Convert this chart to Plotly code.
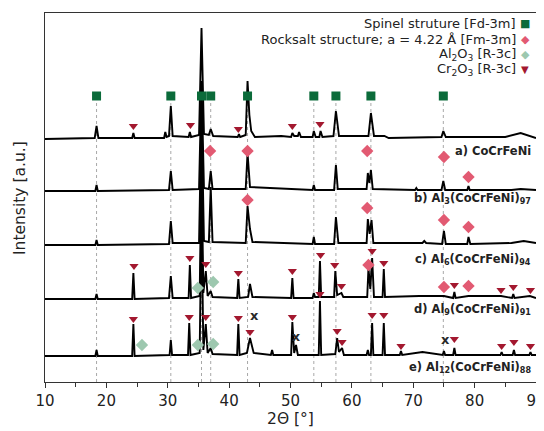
import plotly.graph_objects as go

# ---------------- data (2θ in degrees, intensity in a.u. above each pattern's baseline) ----------------
a_tt = [10, 18.1, 18.4, 18.7, 24.2, 24.4, 24.6, 29.4, 29.6, 29.8, 30.2, 30.5, 30.8, 33.4, 33.6, 33.8,
        35.1, 35.5, 35.9, 36.7, 37.0, 37.4, 41.4, 41.6, 41.8, 42.7, 43.0, 43.3, 43.6, 44.2, 48.5,
        50.1, 50.3, 50.6, 51.2, 51.4, 51.7, 53.6, 53.8, 54.1, 54.7, 54.9, 55.2, 57.0, 57.4, 57.9,
        62.7, 63.1, 63.6, 65.3, 66.0, 74.6, 74.9, 75.3, 85.0, 87.5, 90]
a_int = [0, 1, 13, 1, 1, 6, 1, 1, 7, 2, 3, 33, 3, 2, 7, 2,
         4, 111, 5, 4, 10, 3, 2, 5, 2, 4, 58, 24, 8, 2, 3,
         2, 6, 3, 3, 7, 2, 2, 8, 2, 2, 8, 2, 3, 28, 3,
         3, 26, 3, 3, 1, 2, 8, 2, 2, 6, 1]

b_tt = [10, 18.2, 18.4, 18.6, 30.2, 30.5, 30.8, 35.1, 35.5, 35.9, 36.7, 37.0, 37.3, 42.7, 43.0, 43.4,
        53.6, 53.8, 54.0, 57.1, 57.4, 57.7, 62.4, 62.6, 62.85, 63.1, 63.4, 70.3, 70.5, 70.7,
        74.6, 74.9, 75.2, 78.8, 79.0, 79.2, 86.0, 87.5, 90]
b_int = [0, 0, 6, 0, 1, 20, 1, 2, 110, 3, 2, 20, 2, 2, 38, 4,
         1, 6, 1, 1, 26, 2, 2, 18, 8, 21, 2, 1, 3, 1,
         1, 10, 1, 1, 5, 1, 1, 2, 1]

c_tt = [10, 18.2, 18.4, 18.6, 30.2, 30.5, 30.8, 35.1, 35.5, 35.9, 36.7, 37.0, 37.3, 42.7, 43.0, 43.4,
        43.8, 53.6, 53.8, 54.0, 57.1, 57.4, 57.8, 62.4, 62.6, 62.9, 63.2, 63.5, 71.5, 71.8, 72.1,
        74.7, 75.0, 75.3, 78.8, 79.0, 79.3, 86.0, 88.0, 90]
c_int = [0, 0, 5, 0, 1, 24, 2, 2, 136, 4, 3, 58, 3, 2, 39, 16,
         3, 1, 8, 1, 1, 28, 2, 2, 26, 11, 25, 2, 2, 4, 2,
         1, 14, 1, 1, 8, 1, 2, 4, 2]

d_tt = [10, 18.2, 18.4, 18.6, 24.2, 24.4, 24.6, 30.2, 30.5, 30.8, 33.4, 33.6, 33.8, 35.2, 35.5, 35.8,
        36.2, 36.5, 37.0, 37.3, 41.3, 41.5, 41.7, 43.1, 43.4, 43.8, 50.1, 50.3, 50.5, 53.6, 53.8,
        54.0, 54.6, 54.8, 55.0, 57.1, 57.3, 57.6, 58.3, 58.6, 62.5, 62.7, 63.0, 63.3, 63.6, 65.0,
        65.2, 65.4, 71.0, 75.0, 76.5, 76.7, 76.9, 79.0, 84.3, 86.1, 86.3, 86.5, 89.0, 90]
d_int = [0, 0, 5, 0, 0, 26, 0, 1, 23, 1, 1, 34, 1, 3, 141, 6,
         28, 3, 8, 2, 1, 20, 1, 2, 15, 2, 1, 21, 1, 1, 6,
         2, 2, 38, 2, 2, 28, 4, 6, 2, 2, 31, 10, 41, 2, 2,
         30, 2, 3, 3, 1, 7, 1, 3, 3, 1, 5, 1, 3, 1]

e_tt = [10, 18.2, 18.4, 18.6, 24.2, 24.4, 24.6, 30.3, 30.5, 30.7, 33.3, 33.5, 33.7, 35.2, 35.5, 35.8,
        36.2, 36.5, 37.0, 37.3, 41.3, 41.5, 41.7, 42.9, 43.4, 44.0, 46.8, 47.0, 47.2, 50.1, 50.3,
        50.6, 50.9, 51.2, 54.6, 54.8, 55.0, 57.3, 57.6, 57.9, 58.4, 58.7, 62.4, 62.6, 62.8, 63.1,
        63.3, 63.5, 65.0, 65.2, 65.4, 67.8, 68.0, 68.2, 71.5, 74.8, 75.0, 75.2, 76.5, 76.7, 76.9,
        84.2, 84.4, 84.6, 86.2, 86.4, 86.6, 88.9, 89.1, 89.3, 90]
e_int = [0, 0, 6, 0, 0, 32, 0, 1, 16, 1, 1, 33, 1, 3, 148, 6,
         32, 3, 8, 2, 1, 32, 1, 3, 18, 3, 1, 6, 1, 1, 34,
         3, 11, 1, 1, 55, 1, 2, 18, 4, 8, 1, 1, 6, 1, 1,
         33, 1, 1, 33, 1, 1, 5, 1, 4, 1, 5, 1, 1, 8, 1,
         1, 4, 1, 1, 6, 1, 1, 4, 1, 1]

pattern_names = ["a) CoCrFeNi",
                 "b) Al<sub>3</sub>(CoCrFeNi)<sub>97</sub>",
                 "c) Al<sub>6</sub>(CoCrFeNi)<sub>94</sub>",
                 "d) Al<sub>9</sub>(CoCrFeNi)<sub>91</sub>",
                 "e) Al<sub>12</sub>(CoCrFeNi)<sub>88</sub>"]
pattern_offsets = [243, 191, 137, 83, 26]   # vertical stacking offsets (a.u.)
label_levels = [231, 184, 123, 73, 15]

# phase reflections (2θ) and marker levels (a.u. in stacked scale)
spinel_tt = [18.4, 30.5, 35.5, 37.0, 43.0, 53.8, 57.4, 63.1, 74.9]
spinel_lvl = [286] * 9

rock_tt = [36.9, 43.0, 62.5, 75.0, 79.0, 43.0, 62.5, 75.0, 79.0, 62.7, 75.0, 79.0]
rock_lvl = [231, 231, 231, 225, 205, 182, 174, 162, 155, 117, 95, 96]

al2o3_tt = [34.9, 37.4, 25.8, 34.9, 37.4]
al2o3_lvl = [94, 100, 37, 37, 38]

cr2o3_tt = [24.4, 33.7, 41.5, 50.3, 54.8,
            24.5, 33.6, 36.2, 41.5, 50.3, 54.9, 57.2, 58.3, 63.3, 65.2, 76.7, 84.3, 86.3, 89.1,
            24.4, 33.5, 36.2, 41.5, 43.4, 50.3, 54.8, 57.6, 58.4, 63.3, 65.2, 68.0, 76.7, 84.4, 86.4, 89.1]
cr2o3_lvl = [256, 257, 253, 256, 258,
             116, 124, 118, 109, 111, 127, 117, 96, 131, 119, 97, 92, 95, 92,
             63, 65, 65, 64, 50, 65, 88, 51, 40, 67, 67, 36, 43, 36, 40, 36]

unknown_tt = [44.1, 50.9, 75.2]
unknown_lvl = [65, 44, 41]

legend_labels = ["Spinel struture [Fd-3m]",
                 "Rocksalt structure; a = 4.22 Å [Fm-3m]",
                 "Al<sub>2</sub>O<sub>3</sub> [R-3c]",
                 "Cr<sub>2</sub>O<sub>3</sub> [R-3c]"]
legend_glyphs = ["■", "◆", "◆", "▼"]

# ---------------- styling ----------------
FONT = "DejaVu Sans"
C_SPINEL = "#0b6b3a"
C_ROCK = "#e25a72"
C_AL2O3 = "#9dc8af"
C_CR2O3 = "#a3182f"
legend_colors = [C_SPINEL, C_ROCK, C_AL2O3, C_CR2O3]

fig = go.Figure()

# dashed reference lines for spinel reflections
for t in spinel_tt:
    fig.add_shape(type="line", x0=t, x1=t, y0=0, y1=281, xref="x", yref="y",
                  line=dict(color="#a8a8a8", width=1, dash="3px,3px"), layer="below")

patterns = [(a_tt, a_int), (b_tt, b_int), (c_tt, c_int), (d_tt, d_int), (e_tt, e_int)]
for (tt, iv), off in zip(patterns, pattern_offsets):
    fig.add_trace(go.Scatter(x=tt, y=[off + v for v in iv], mode="lines",
                             line=dict(color="black", width=1.9), hoverinfo="skip",
                             showlegend=False))

fig.add_trace(go.Scatter(x=spinel_tt, y=spinel_lvl, mode="markers",
                         marker=dict(symbol="square", size=9, color=C_SPINEL), showlegend=False))
fig.add_trace(go.Scatter(x=rock_tt, y=rock_lvl, mode="markers",
                         marker=dict(symbol="diamond", size=9.5, color=C_ROCK), showlegend=False))
fig.add_trace(go.Scatter(x=al2o3_tt, y=al2o3_lvl, mode="markers",
                         marker=dict(symbol="diamond", size=9.5, color=C_AL2O3), showlegend=False))
fig.add_trace(go.Scatter(x=cr2o3_tt, y=cr2o3_lvl, mode="markers",
                         marker=dict(symbol="triangle-down", size=8, color=C_CR2O3), showlegend=False))
fig.add_trace(go.Scatter(x=unknown_tt, y=unknown_lvl, mode="text", text=["<b>x</b>"] * len(unknown_tt),
                         textfont=dict(family=FONT, size=13, color="#2a2a2a"),
                         textposition="middle center", showlegend=False))

annotations = []
for name, lvl in zip(pattern_names, label_levels):
    annotations.append(dict(x=0.994, y=lvl, xref="paper", yref="y", text="<b>" + name + "</b>",
                            showarrow=False, xanchor="right", yanchor="middle",
                            font=dict(family=FONT, size=11.5, color="#222222")))

legend_py = [15.7, 31.7, 46.7, 61.7]
for lab, gl, col, py in zip(legend_labels, legend_glyphs, legend_colors, legend_py):
    yp = 1 - (py - 5) / 369
    annotations.append(dict(x=0.963, y=yp, xref="paper", yref="paper", text=lab, showarrow=False,
                            xanchor="right", yanchor="middle",
                            font=dict(family=FONT, size=13, color="#222222")))
    annotations.append(dict(x=0.978, y=yp, xref="paper", yref="paper", text=gl, showarrow=False,
                            xanchor="center", yanchor="middle",
                            font=dict(family="DejaVu Sans", size=11 if gl != "▼" else 10, color=col)))

annotations.append(dict(x=-0.052, y=0.5, xref="paper", yref="paper", text="Intensity [a.u.]",
                        textangle=-90, showarrow=False, xanchor="center", yanchor="middle",
                        font=dict(family=FONT, size=15.5, color="#222222")))

fig.update_layout(
    width=544, height=431,
    margin=dict(l=37, r=16, t=5, b=57),
    paper_bgcolor="white", plot_bgcolor="white",
    annotations=annotations,
    xaxis=dict(range=[10, 90], dtick=10, tick0=10, ticks="outside", ticklen=5, tickwidth=1,
               tickcolor="#333333", showline=True, linecolor="#333333", linewidth=1.2, mirror=True,
               showgrid=False, zeroline=False,
               minor=dict(dtick=5, tick0=10, ticks="outside", ticklen=4, tickcolor="#333333", showgrid=False),
               tickfont=dict(family=FONT, size=15, color="#222222"),
               title=dict(text="2Θ [°]", font=dict(family=FONT, size=15.5, color="#222222"), standoff=4)),
    yaxis=dict(range=[0, 369], showticklabels=False, ticks="", showline=True, linecolor="#333333",
               linewidth=1.2, mirror=True, showgrid=False, zeroline=False),
)

fig.write_html("out.html")
